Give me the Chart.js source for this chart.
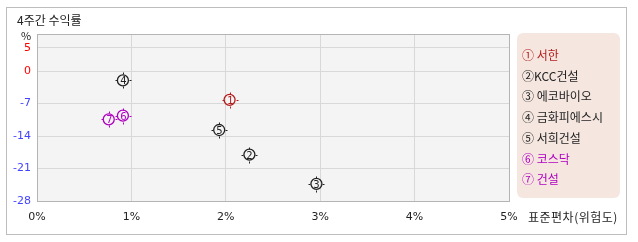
<!DOCTYPE html>
<html>
<head>
<meta charset="utf-8">
<script src="https://cdn.jsdelivr.net/npm/chart.js@4"></script>
<style>
body{margin:0;background:#fff;font-family:"Noto Sans CJK KR","DejaVu Sans",sans-serif;}
#wrap{position:relative;width:638px;height:242px;}
#box{position:absolute;left:6px;top:7px;width:619px;height:226px;border:1px solid #bdbdbd;}
#titulo{position:absolute;left:17px;top:11px;font-size:12px;color:#222;}
#pct{position:absolute;left:21px;top:27px;font-size:11px;color:#222;}
#xtit{position:absolute;left:528px;top:208px;font-size:12px;color:#222;letter-spacing:0.5px;}
#leyenda{position:absolute;left:517px;top:33px;width:103px;height:165px;background:#f5e7e0;border-radius:6px;}
#leyenda div{position:absolute;left:5px;font-size:12px;white-space:nowrap;}
canvas{position:absolute;left:0;top:0;}
</style>
</head>
<body>
<div id="wrap">
<div id="box"></div>
<canvas id="myChart" width="638" height="242"></canvas>
<div id="titulo">4주간 수익률</div>
<div id="pct">%</div>
<div id="xtit">표준편차(위험도)</div>
<div id="leyenda"></div>
</div>
<script>
const nombres = ["서한","KCC건설","에코바이오","금화피에스시","서희건설","코스닥","건설"];
const marcas = ["①","②","③","④","⑤","⑥","⑦"];
const riesgo = [2.04, 2.25, 2.96, 0.91, 1.93, 0.91, 0.76];
const rendimiento = [-6.2, -18.0, -24.3, -2.0, -12.7, -9.6, -10.4];
const ticksX = [0, 1, 2, 3, 4, 5];
const ticksY = [-28, -21, -14, -7, 0, 5];
const colores = ["#b41c1c","#222222","#222222","#222222","#222222","#b000c0","#b000c0"];

function generarLeyenda(){
    let caja = document.getElementById('leyenda');
    for(let i=0;i<nombres.length;i++){
        let sep = nombres[i]=="KCC건설" ? "" : " ";
        let texto = `<div style="top:${13+i*20.7}px;color:${colores[i]}">${marcas[i]}${sep}${nombres[i]}</div>`;
        caja.insertAdjacentHTML('beforeend',texto);
    }
}

const fondo = {
    id:'fondo',
    beforeDraw(chart){
        const a = chart.chartArea, c = chart.ctx;
        c.save();
        c.fillStyle = '#f4f4f4';
        c.fillRect(a.left, a.top, a.right-a.left, a.bottom-a.top);
        c.restore();
    },
    afterDraw(chart){
        const a = chart.chartArea, c = chart.ctx;
        c.save();
        c.strokeStyle = '#b4b4b4';
        c.lineWidth = 1;
        c.strokeRect(Math.round(a.left)+0.5, Math.round(a.top)+0.5, Math.round(a.right-a.left), Math.round(a.bottom-a.top));
        c.restore();
    }
};

// numero dentro del circulo y marquitas alrededor
const numeros = {
    id:'numeros',
    afterDatasetsDraw(chart){
        const c = chart.ctx;
        const meta = chart.getDatasetMeta(0);
        c.save();
        c.font = '10px "DejaVu Sans"';
        c.textAlign = 'center';
        c.textBaseline = 'middle';
        meta.data.forEach((p,i)=>{
            const x = Math.round(p.x)+0.5, y = Math.round(p.y)+0.5;
            c.fillStyle = colores[i];
            c.strokeStyle = colores[i];
            c.fillText(String(i+1), x, y+0.5);
            c.lineWidth = 1;
            c.beginPath();
            c.moveTo(x, y-6); c.lineTo(x, y-8);
            c.moveTo(x, y+6); c.lineTo(x, y+8);
            c.moveTo(x-6, y); c.lineTo(x-8, y);
            c.moveTo(x+6, y); c.lineTo(x+8, y);
            c.stroke();
        });
        c.restore();
    }
};

function grafico(){
    const puntos = riesgo.map((x,i)=>({x:x, y:rendimiento[i]}));
    const ctx = document.getElementById('myChart').getContext('2d');
    new Chart(ctx, {
        type:'scatter',
        data:{
            datasets:[{
                label:'4주간 수익률',
                data:puntos,
                pointStyle:'circle',
                pointRadius:5.5,
                pointHoverRadius:5.5,
                pointBorderWidth:1.3,
                pointBorderColor:colores,
                pointBackgroundColor:'rgba(0,0,0,0)'
            }]
        },
        options:{
            responsive:false,
            animation:false,
            events:[],
            layout:{padding:{left:6, right:129, top:34, bottom:21}},
            plugins:{legend:{display:false}, tooltip:{enabled:false}},
            scales:{
                x:{
                    type:'linear', min:0, max:5,
                    afterBuildTicks(s){ s.ticks = ticksX.map(v=>({value:v})); },
                    afterFit(s){ s.height = 20; },
                    grid:{color:'#d8d8d8', drawTicks:false},
                    border:{display:false},
                    ticks:{padding:10, color:'#222', font:{size:11, family:'DejaVu Sans'},
                        callback:v=>v+'%'}
                },
                y:{
                    type:'linear', min:-28, max:8,
                    afterBuildTicks(s){ s.ticks = ticksY.map(v=>({value:v})); },
                    afterFit(s){ s.width = 31; },
                    grid:{color:'#d8d8d8', drawTicks:false},
                    border:{display:false},
                    ticks:{padding:6, font:{size:11, family:'DejaVu Sans'},
                        color:c=> c.tick && c.tick.value>=0 ? '#ff0000' : '#4444ff'}
                }
            }
        },
        plugins:[fondo, numeros]
    });
}

generarLeyenda();
grafico();
</script>
</body>
</html>
